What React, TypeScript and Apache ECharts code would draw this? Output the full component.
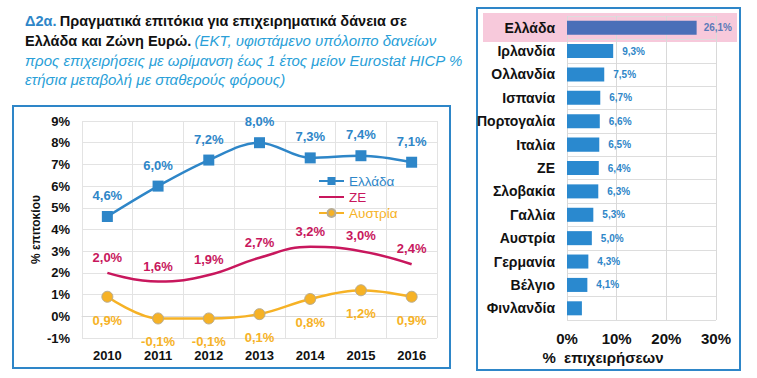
import React, { useEffect, useRef } from "react";
import * as echarts from "echarts";

const years = ["2010", "2011", "2012", "2013", "2014", "2015", "2016"];
const greece = [4.6, 6.0, 7.2, 8.0, 7.3, 7.4, 7.1];
const eurozone = [2.0, 1.6, 1.9, 2.7, 3.2, 3.0, 2.4];
const austria = [0.9, -0.1, -0.1, 0.1, 0.8, 1.2, 0.9];
const yTicks = { min: -1, max: 9, interval: 1 };

const countries = [
  "Ελλάδα", "Ιρλανδία", "Ολλανδία", "Ισπανία", "Πορτογαλία", "Ιταλία", "ΖΕ",
  "Σλοβακία", "Γαλλία", "Αυστρία", "Γερμανία", "Βέλγιο", "Φινλανδία",
];
const shares = [26.1, 9.3, 7.5, 6.7, 6.6, 6.5, 6.4, 6.3, 5.3, 5.0, 4.3, 4.1, 3.0];
const shareLabelShown = [true, true, true, true, true, true, true, true, true, true, true, true, false];
const xTicks = { min: 0, max: 30, interval: 10 };

const BLUE = "#2E86C8";
const RED = "#C8175D";
const ORANGE = "#F6B226";
const FONT = "'Liberation Sans', Arial, sans-serif";

const fmt = (v: number) => v.toFixed(1).replace(".", ",") + "%";

export default function App() {
  const ref = useRef<HTMLDivElement>(null);
  useEffect(() => {
    const chart = echarts.init(ref.current!, undefined, { renderer: "svg" });
    const option: any = {
      animation: false,
      backgroundColor: "#ffffff",
      textStyle: { fontFamily: FONT },
      graphic: [
        {
          type: "text",
          left: 25,
          top: 14,
          style: {
            text:
              "{a|Δ2α.} {b|Πραγματικά επιτόκια για επιχειρηματικά δάνεια σε}\n" +
              "{b|Ελλάδα και Ζώνη Ευρώ.} {c|(ΕΚΤ, υφιστάμενο υπόλοιπο δανείων}\n" +
              "{c|προς επιχειρήσεις με ωρίμανση έως 1 έτος μείον Eurostat HICP %}\n" +
              "{c|ετήσια μεταβολή με σταθερούς φόρους)}",
            rich: {
              a: { fontFamily: FONT, fontSize: 14.5, fontWeight: "bold", fill: BLUE, lineHeight: 19.3 },
              b: { fontFamily: FONT, fontSize: 14.5, fontWeight: "bold", fill: "#111111", lineHeight: 19.3 },
              c: { fontFamily: FONT, fontSize: 15, fontStyle: "italic", fill: "#2A9FD8", lineHeight: 19.3 },
            },
          },
        },
        {
          type: "rect",
          z: -1,
          shape: { x: 13, y: 106, width: 437, height: 262 },
          style: { fill: "none", stroke: BLUE, lineWidth: 2 },
        },
        {
          type: "rect",
          z: -1,
          shape: { x: 477, y: 8, width: 263, height: 362 },
          style: { fill: "none", stroke: BLUE, lineWidth: 2 },
        },
        {
          type: "rect",
          z: -2,
          shape: { x: 483, y: 13, width: 254, height: 29 },
          style: { fill: "#F7C9DB" },
        },
        {
          type: "text",
          x: 603,
          y: 357,
          style: {
            text: "%  επιχειρήσεων",
            fontFamily: FONT,
            fontSize: 15,
            fontWeight: "bold",
            fill: "#111111",
            align: "center",
            verticalAlign: "middle",
          },
        },
      ],
      legend: {
        orient: "vertical",
        left: 313,
        top: 169,
        itemGap: 2,
        itemWidth: 25,
        itemHeight: 10,
        textStyle: { fontFamily: FONT, fontSize: 13.5, lineHeight: 14 },
        data: [
          { name: "Ελλάδα", textStyle: { color: BLUE } },
          { name: "ΖΕ", textStyle: { color: RED }, itemStyle: { opacity: 0 } },
          { name: "Αυστρία", textStyle: { color: ORANGE } },
        ],
      },
      grid: [
        { left: 82, right: 320, top: 121, bottom: 40 },
        { left: 567, right: 41, top: 16, bottom: 58 },
      ],
      xAxis: [
        {
          gridIndex: 0,
          type: "category",
          data: years,
          boundaryGap: true,
          axisTick: { show: false },
          axisLine: { lineStyle: { color: "#D9D9D9" } },
          axisLabel: { color: "#111111", fontWeight: "bold", fontSize: 13, fontFamily: FONT, margin: 11 },
          splitLine: { show: true, lineStyle: { color: "#E3E3E3" } },
        },
        {
          gridIndex: 1,
          type: "value",
          min: xTicks.min,
          max: xTicks.max,
          interval: xTicks.interval,
          axisLine: { show: false },
          axisTick: { show: false },
          axisLabel: {
            color: "#111111",
            fontWeight: "bold",
            fontSize: 15,
            fontFamily: FONT,
            margin: 11,
            formatter: (v: number) => v + "%",
          },
          splitLine: { show: true, lineStyle: { color: "#D9D9D9" } },
        },
      ],
      yAxis: [
        {
          gridIndex: 0,
          type: "value",
          min: yTicks.min,
          max: yTicks.max,
          interval: yTicks.interval,
          axisLine: { show: false },
          axisTick: { show: false },
          axisLabel: {
            color: "#111111",
            fontWeight: "bold",
            fontSize: 13,
            fontFamily: FONT,
            margin: 12,
            formatter: (v: number) => v + "%",
          },
          splitLine: { show: true, lineStyle: { color: "#E3E3E3" } },
          name: "% επιτοκίου",
          nameLocation: "middle",
          nameGap: 40,
          nameTextStyle: { color: "#111111", fontWeight: "bold", fontSize: 12, fontFamily: FONT },
        },
        {
          gridIndex: 1,
          type: "category",
          data: countries,
          inverse: true,
          axisLine: { show: false },
          axisTick: { show: false },
          axisLabel: { color: "#111111", fontWeight: "bold", fontSize: 14, fontFamily: FONT, margin: 12 },
          splitLine: { show: true, lineStyle: { color: "#DDDDDD" } },
        },
      ],
      series: [
        {
          name: "Ελλάδα",
          type: "line",
          xAxisIndex: 0,
          yAxisIndex: 0,
          data: greece,
          smooth: 0.35,
          symbol: "rect",
          symbolSize: 11,
          itemStyle: { color: BLUE },
          lineStyle: { color: BLUE, width: 2.5 },
          label: {
            show: true,
            position: "top",
            distance: 9,
            color: BLUE,
            fontSize: 13,
            fontWeight: "bold",
            fontFamily: FONT,
            formatter: (p: any) => fmt(p.value),
          },
        },
        {
          name: "ΖΕ",
          type: "line",
          xAxisIndex: 0,
          yAxisIndex: 0,
          data: eurozone,
          smooth: 0.45,
          symbol: "circle",
          symbolSize: 0,
          showSymbol: true,
          itemStyle: { color: RED },
          lineStyle: { color: RED, width: 2.5 },
          label: {
            show: true,
            position: "top",
            distance: 9,
            color: RED,
            fontSize: 13,
            fontWeight: "bold",
            fontFamily: FONT,
            formatter: (p: any) => fmt(p.value),
          },
        },
        {
          name: "Αυστρία",
          type: "line",
          xAxisIndex: 0,
          yAxisIndex: 0,
          data: austria,
          smooth: 0.35,
          symbol: "circle",
          symbolSize: 11,
          itemStyle: { color: ORANGE, borderColor: "#B9AC90", borderWidth: 1 },
          lineStyle: { color: ORANGE, width: 2.5 },
          label: {
            show: true,
            position: "bottom",
            distance: 11,
            color: ORANGE,
            fontSize: 13,
            fontWeight: "bold",
            fontFamily: FONT,
            formatter: (p: any) => fmt(p.value),
          },
        },
        {
          name: "shares",
          type: "bar",
          xAxisIndex: 1,
          yAxisIndex: 1,
          barCategoryGap: "40%",
          data: shares.map((v, i) => ({
            value: v,
            itemStyle: { color: i === 0 ? "#4A6FB8" : "#2A89CF" },
            label: {
              show: shareLabelShown[i],
              color: i === 0 ? "#5A7AB8" : BLUE,
              distance: i === 0 ? 7 : 9,
            },
          })),
          label: {
            show: true,
            position: "right",
            fontSize: 10,
            fontWeight: "bold",
            fontFamily: FONT,
            formatter: (p: any) => fmt(p.value),
          },
        },
      ],
    };
    chart.setOption(option);
    return () => chart.dispose();
  }, []);
  return (
    <div
      ref={ref}
      style={{ position: "fixed", left: 0, top: 0, width: 757, height: 378, background: "#fff" }}
    />
  );
}
